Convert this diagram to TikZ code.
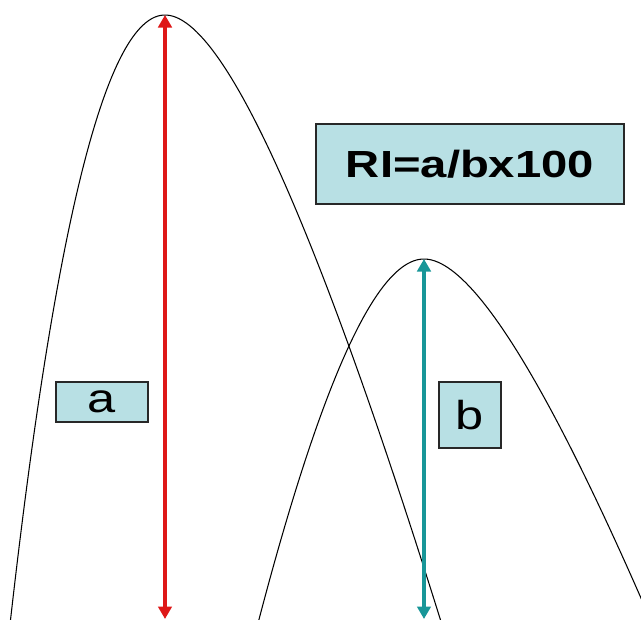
\documentclass[tikz,border=0pt]{standalone}
\usepackage{fontspec}
\newfontfamily\labelfont[FakeStretch=1.25]{Liberation Sans}
\usepackage{tikz}
\usetikzlibrary{arrows.meta}
\definecolor{peakred}{RGB}{222,24,24}
\definecolor{peakteal}{RGB}{24,150,152}
\definecolor{boxfill}{RGB}{184,224,228}
\definecolor{boxline}{RGB}{40,40,40}
\tikzset{
  labelbox/.style={rectangle, draw=boxline, fill=boxfill, line width=0.9pt,
    inner sep=0pt, font=\labelfont\fontsize{23}{26}\selectfont},
  peakline/.style={black, line width=0.6pt},
  heightarrow/.style={{Triangle[width=2.7mm,length=2.5mm]}-{Triangle[width=2.7mm,length=2.5mm]},
    line width=0.8mm},
}

\begin{document}
\begin{tikzpicture}[x=0.2mm, y=-0.2mm]
  \path[use as bounding box, clip] (0,0) rectangle (641,620);
  % the two peaks
  \draw[peakline, domain=-25.5:25.5, samples=120, variable=\t]
    plot ({165 + 7*\t + 0.1*\t*\t + 0.0708*\t*abs(\t)}, {15 + \t*\t});
  \draw[peakline, domain=-19.5:19.5, samples=100, variable=\t]
    plot ({424 + 7.42*\t + 0.085*\t*\t + 0.152*\t*abs(\t)}, {259 + \t*\t});
  % peak heights
  \coordinate (atop) at (165,15);
  \coordinate (abot) at (165,619);
  \coordinate (btop) at (424,259);
  \coordinate (bbot) at (424,619);
  \draw[heightarrow, peakred] (atop) -- (abot);
  \draw[heightarrow, peakteal] (btop) -- (bbot);
  % labels
  \node[labelbox, minimum width=18.4mm, minimum height=8mm] (alabel) at (102,402) {a};
  \node[labelbox, minimum width=12.4mm, minimum height=13.2mm] (blabel) at (470,415) {b};
  \node[labelbox, minimum width=61.6mm, minimum height=16mm,
    font=\labelfont\bfseries\fontsize{21.5}{24}\selectfont] (ratio) at (470,164) {RI=a/bx100};
\end{tikzpicture}
\end{document}
